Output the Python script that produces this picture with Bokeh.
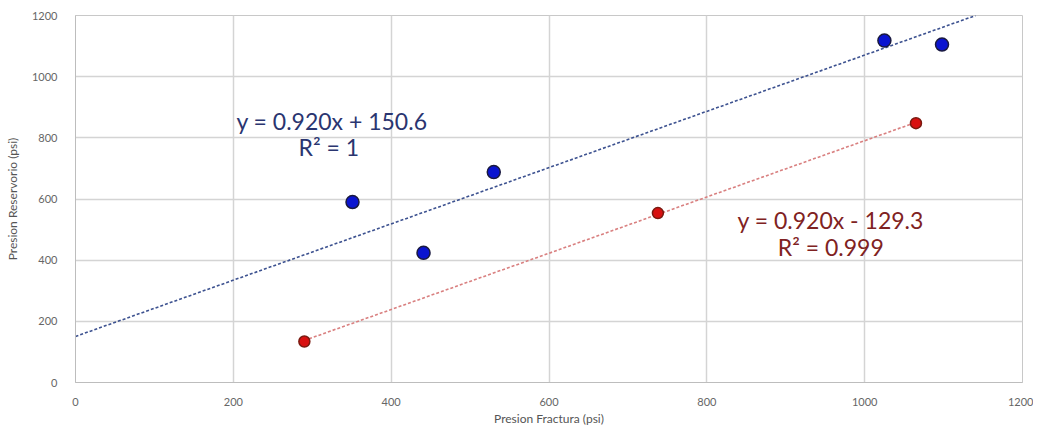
from bokeh.plotting import figure
from bokeh.models import Range1d, FixedTicker
from bokeh.core.properties import value
from bokeh.embed import file_html
from bokeh.resources import INLINE

# Data
blue_x = [351, 441, 530, 1025, 1098]
blue_y = [590, 424, 688, 1118, 1105]
red_x = [290, 738, 1065]
red_y = [134, 554, 848]

blue_slope, blue_intercept = 0.920, 150.6
red_slope, red_intercept = 0.920, -129.3

blue_eq = ["y = 0.920x + 150.6", "R² = 1"]
red_eq = ["y = 0.920x - 129.3", "R² = 0.999"]

x_ticks = [0, 200, 400, 600, 800, 1000, 1200]
y_ticks = [0, 200, 400, 600, 800, 1000, 1200]

FONT = "Lato"

p = figure(width=1033, height=428, output_backend="svg", toolbar_location=None,
           x_range=Range1d(0, 1200), y_range=Range1d(0, 1200),
           min_border_left=75, min_border_right=11, min_border_top=15, min_border_bottom=45)
p.outline_line_color = "#c8c8c8"
p.background_fill_color = "white"

for ax in (p.xaxis[0], p.yaxis[0]):
    ax.axis_line_color = "#bdbdbd"
    ax.major_tick_line_color = None
    ax.minor_tick_line_color = None
    ax.major_label_text_color = "#666666"
    ax.major_label_text_font = FONT
    ax.major_label_text_font_size = "11px"
    ax.axis_label_text_color = "#555555"
    ax.axis_label_text_font = FONT
    ax.axis_label_text_font_size = "12px"
    ax.axis_label_text_font_style = "normal"

p.xaxis.ticker = FixedTicker(ticks=x_ticks)
p.yaxis.ticker = FixedTicker(ticks=y_ticks)
p.xaxis.major_label_standoff = 9
p.yaxis.major_label_standoff = 12
p.xaxis.axis_label = "Presion Fractura (psi)"
p.yaxis.axis_label = "Presion Reservorio (psi)"
p.xaxis.axis_label_standoff = 2
p.yaxis.axis_label_standoff = 9

p.xgrid.ticker = FixedTicker(ticks=x_ticks)
p.ygrid.ticker = FixedTicker(ticks=y_ticks)
p.grid.grid_line_color = "#d4d4d4"
p.grid.grid_line_width = 1.5

# Trend lines
bx = [0, (1200 - blue_intercept) / blue_slope]
by = [blue_slope * v + blue_intercept for v in bx]
p.line(bx, by, line_color="#3d5290", line_width=1.6, line_dash="3 2")

rx = [min(red_x), max(red_x)]
ry = [red_slope * v + red_intercept for v in rx]
p.line(rx, ry, line_color="#d98080", line_width=1.6, line_dash="3 2")

# Points
p.scatter(blue_x, blue_y, size=13, fill_color="#0a14d0", line_color="#1a1a40", line_width=1.5)
p.scatter(red_x, red_y, size=11, fill_color="#d81010", line_color="#7a1a10", line_width=1.5)

# Equations
p.text(x=[325, 321], y=[854, 770], text=blue_eq, text_align="center", text_baseline="middle",
       text_color="#2a3570", text_font=value(FONT), text_font_size="23px")
p.text(x=[957, 957], y=[531, 443], text=red_eq, text_align="center", text_baseline="middle",
       text_color="#7f2222", text_font=value(FONT), text_font_size="23px")

open("out.html", "w").write(file_html(p, INLINE))
